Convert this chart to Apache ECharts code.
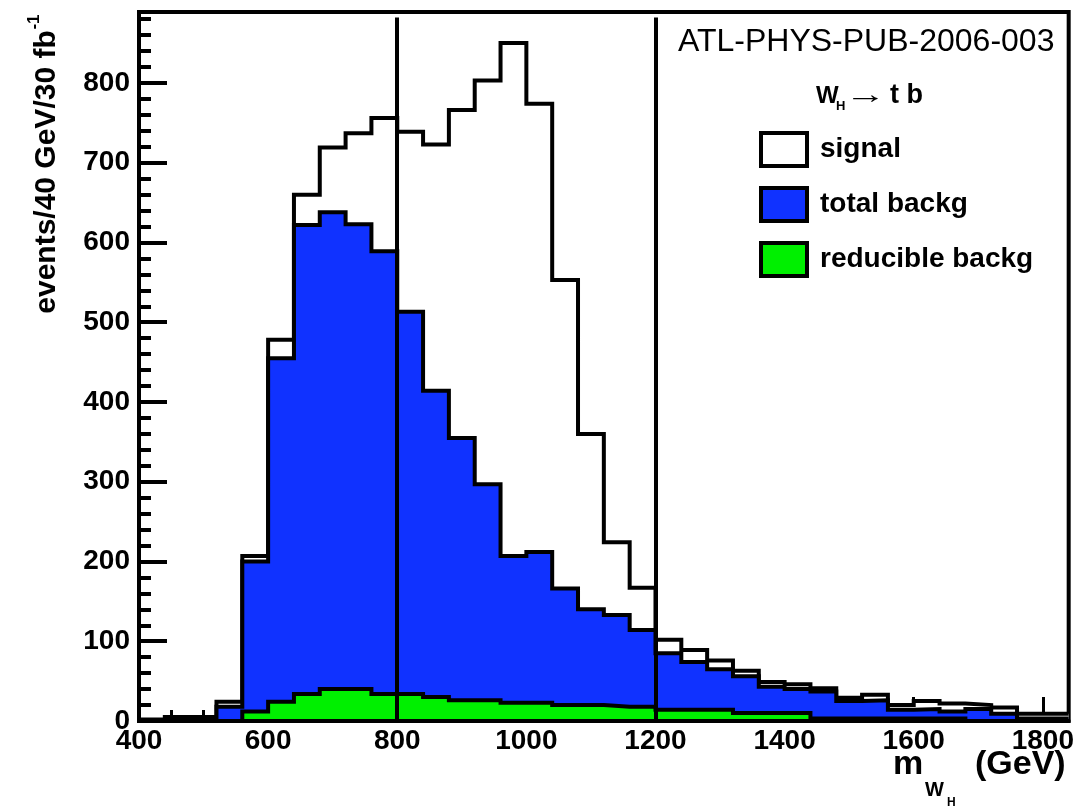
<!DOCTYPE html>
<html>
<head>
<meta charset="utf-8">
<script src="https://cdn.jsdelivr.net/npm/echarts@6/dist/echarts.min.js"></script>
<style>
  html, body { margin: 0; padding: 0; background: #fff; }
  #chart { width: 1077px; height: 806px; }
</style>
</head>
<body>
<div id="chart"></div>
<script>
// bin lower edges (GeV), 40 GeV wide
const bins = [400, 440, 480, 520, 560, 600, 640, 680, 720, 760, 800, 840, 880, 920, 960, 1000, 1040, 1080,
  1120, 1160, 1200, 1240, 1280, 1320, 1360, 1400, 1440, 1480, 1520, 1560, 1600, 1640, 1680, 1720, 1760, 1800];
const binUpper = 1840;
// signal + background (white histogram)
const signalTotal = [2, 5, 5, 24, 207, 478, 660, 719, 737, 756, 739, 723, 766, 803, 850, 774, 553, 360,
  224, 167, 102, 89, 76, 63, 49, 46, 41, 29, 33, 20, 25, 22, 20, 17, 9, 9];
const totalBackg = [0, 0, 0, 18, 200, 455, 622, 638, 623, 589, 513, 414, 355, 297, 207, 212, 166, 140,
  133, 114, 85, 74, 65, 56, 43, 40, 37, 25, 26, 14, 15, 12, 15, 9, 3, 3];
const reducibleBackg = [0, 0, 0, 0, 12, 24, 34, 40, 40, 34, 34, 30, 26, 26, 23, 23, 20, 20,
  18, 18, 14, 14, 14, 10, 10, 10, 3, 3, 3, 3, 3, 3, 0, 0, 0, 0];
// mass window cuts
const cuts = [800, 1200];
const cutTop = 882;
const xTicks = [400, 600, 800, 1000, 1200, 1400, 1600, 1800];

const FONT = "'Liberation Sans', Arial, Helvetica, sans-serif";

// histogram -> step points
const steps = (vals) => {
  const pts = vals.map((v, i) => [bins[i], v]);
  pts.push([binUpper, vals[vals.length - 1]]);
  return pts;
};

const histo = (name, vals, fill, z) => ({
  name: name,
  type: 'line',
  step: 'end',
  data: steps(vals),
  symbol: 'none',
  z: z,
  silent: true,
  itemStyle: { color: fill, borderColor: '#000', borderWidth: 4 },
  lineStyle: { color: '#000', width: 4, join: 'miter' },
  areaStyle: { color: fill, opacity: 1 }
});

const chart = echarts.init(document.getElementById('chart'));

const xBase = { type: 'value', min: 400, max: binUpper, position: 'bottom', splitLine: { show: false } };
const yBase = { type: 'value', min: 0, max: 889, position: 'left', splitLine: { show: false } };

const greenSeries = histo('reducible backg', reducibleBackg, '#00f000', 4);
greenSeries.markLine = {
  silent: true,
  symbol: 'none',
  label: { show: false },
  lineStyle: { color: '#000', width: 4, type: 'solid' },
  data: cuts.map(c => [{ coord: [c, 0] }, { coord: [c, cutTop] }])
};

const option = {
  animation: false,
  backgroundColor: '#fff',
  grid: {
    left: 139, right: 6, top: 12, bottom: 85,
    show: true, borderColor: '#000', borderWidth: 4, backgroundColor: 'transparent'
  },
  xAxis: [
    Object.assign({}, xBase, {
      interval: 200, z: 10,
      axisLine: { lineStyle: { color: '#000', width: 4 } },
      axisTick: { show: false },
      axisLabel: {
        showMaxLabel: false, color: '#000', fontSize: 28, fontWeight: 'bold', fontFamily: FONT, margin: 6,
        formatter: v => (xTicks.indexOf(v) >= 0 ? String(v) : '')
      }
    }),
    Object.assign({}, xBase, {
      interval: 200,
      axisLine: { show: false },
      axisLabel: { show: false },
      axisTick: { inside: true, length: 24, lineStyle: { color: '#000', width: 3 } }
    }),
    Object.assign({}, xBase, {
      interval: 50,
      axisLine: { show: false },
      axisLabel: { show: false },
      axisTick: { inside: true, length: 11, lineStyle: { color: '#000', width: 3 } }
    })
  ],
  yAxis: [
    Object.assign({}, yBase, {
      interval: 100,
      axisLine: { show: true, lineStyle: { color: '#000', width: 4 } },
      axisTick: { inside: true, length: 28, lineStyle: { color: '#000', width: 4 } },
      axisLabel: { showMaxLabel: false, color: '#000', fontSize: 28, fontWeight: 'bold', fontFamily: FONT, margin: 9 }
    }),
    Object.assign({}, yBase, {
      interval: 20,
      axisLine: { show: false },
      axisLabel: { show: false },
      axisTick: { inside: true, length: 12, lineStyle: { color: '#000', width: 4 } }
    })
  ],
  legend: {
    orient: 'vertical',
    left: 759,
    top: 131,
    padding: 0,
    itemWidth: 46,
    itemHeight: 33,
    itemGap: 18,
    icon: 'rect',
    selectedMode: false,
    textStyle: { color: '#000', fontSize: 28, fontWeight: 'bold', fontFamily: FONT, padding: [0, 0, 0, 8] },
    data: [
      { name: 'signal', itemStyle: { color: '#fff', borderColor: '#000', borderWidth: 4 } },
      { name: 'total backg', itemStyle: { color: '#1032ff', borderColor: '#000', borderWidth: 4 } },
      { name: 'reducible backg', itemStyle: { color: '#00f000', borderColor: '#000', borderWidth: 4 } }
    ]
  },
  graphic: [
    { type: 'text', x: 678, y: 42, z: 20,
      style: { text: 'ATL-PHYS-PUB-2006-003', fill: '#000', font: '32px ' + FONT, verticalAlign: 'middle' } },
    // legend header  W_H -> t b
    { type: 'text', x: 816, y: 96, z: 20,
      style: { text: 'W', fill: '#000', font: 'bold 24px ' + FONT, verticalAlign: 'middle' } },
    { type: 'text', x: 836, y: 106, z: 20,
      style: { text: 'H', fill: '#000', font: 'bold 13px ' + FONT, verticalAlign: 'middle' } },
    { type: 'text', x: 845, y: 96, z: 20, scaleX: 1.6,
      style: { text: '\u2192', fill: '#000', font: 'bold 26px ' + FONT, verticalAlign: 'middle' } },
    { type: 'text', x: 890, y: 96, z: 20,
      style: { text: 't b', fill: '#000', font: 'bold 27px ' + FONT, verticalAlign: 'middle' } },
    // x axis title
    { type: 'text', x: 893, y: 782, z: 20,
      style: { text: 'm', fill: '#000', font: 'bold 34px ' + FONT, verticalAlign: 'bottom' } },
    { type: 'text', x: 925, y: 800, z: 20,
      style: { text: 'W', fill: '#000', font: 'bold 20px ' + FONT, verticalAlign: 'bottom' } },
    { type: 'text', x: 947, y: 809, z: 20,
      style: { text: 'H', fill: '#000', font: 'bold 12px ' + FONT, verticalAlign: 'bottom' } },
    { type: 'text', x: 975, y: 782, z: 20,
      style: { text: '(GeV)', fill: '#000', font: 'bold 34px ' + FONT, verticalAlign: 'bottom' } },
    // y axis title
    { type: 'text', x: 47, y: 172, rotation: Math.PI / 2, z: 20,
      style: { text: 'events/40 GeV/30 fb', fill: '#000', font: 'bold 30px ' + FONT, align: 'center', verticalAlign: 'middle' } },
    { type: 'text', x: 34, y: 22, rotation: Math.PI / 2, z: 20,
      style: { text: '-1', fill: '#000', font: 'bold 17px ' + FONT, align: 'center', verticalAlign: 'middle' } }
  ],
  series: [
    histo('signal', signalTotal, '#ffffff', 2),
    histo('total backg', totalBackg, '#1032ff', 3),
    greenSeries
  ]
};

chart.setOption(option);
</script>
</body>
</html>
